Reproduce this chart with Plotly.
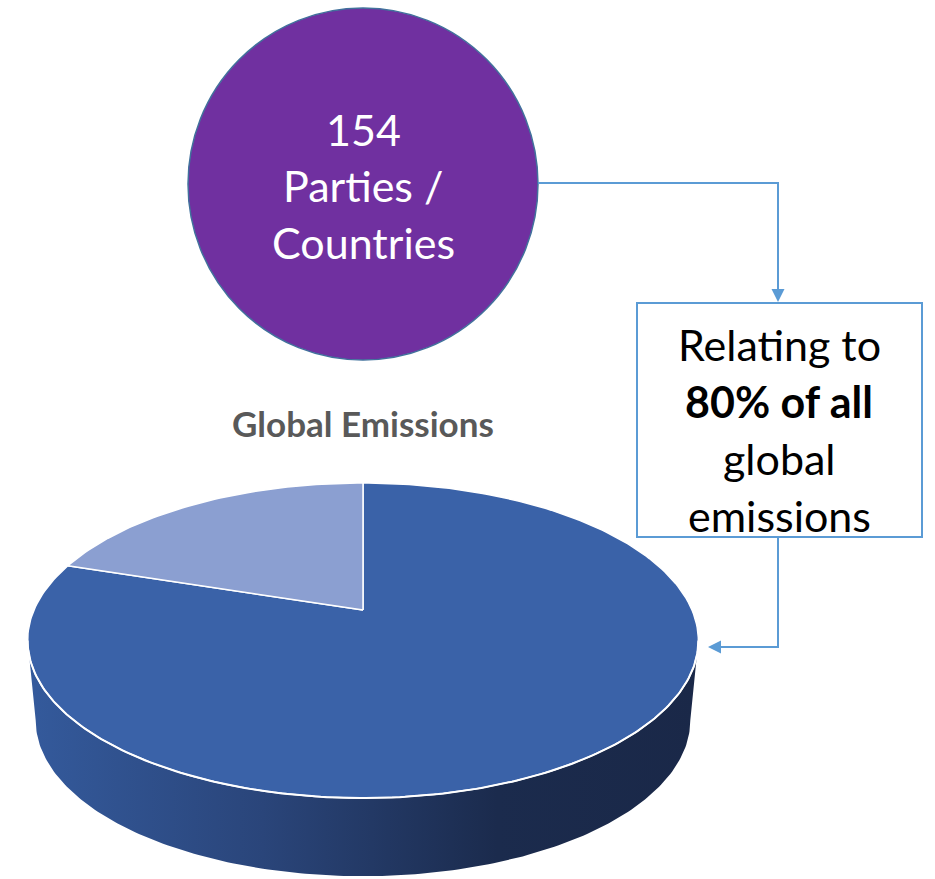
import numpy as np
import plotly.graph_objects as go

# ---- data ----
slice_labels = ["Covered by 154 Parties", "Rest of world"]
slice_values = [80, 20]
slice_colors = ["#3A62A8", "#8B9FD1"]
chart_title = "Global Emissions"
circle_lines = ["154", "Parties /", "Countries"]
box_lines = ["Relating to", "<b>80% of all</b>", "global", "emissions"]

W, H_PX = 935, 879
FONT = "Lato"
LINE_COL = "#5B9BD5"

# pie geometry (pixel space, y down)
cx, cy = 363, 610
R, Hh, p = 329, 151.6, 0.194
DEPTH = 80


def proj(phi, drop=0.0, shrink_x=1.0, shrink_y=1.0):
    u = np.sin(phi)
    v = np.cos(phi)
    s = 1.0 / (1.0 + p * v)
    return cx + R * u * s * shrink_x, cy - Hh * v * s * shrink_y + drop


fig = go.Figure()

# side of the pie (front arc extruded)
phi_r = np.arccos(-p)
phi_l = 2 * np.pi - phi_r
arc = np.linspace(phi_r, phi_l, 200)
tx, ty = proj(arc)
bx, by = proj(arc[::-1], drop=DEPTH, shrink_x=0.976, shrink_y=0.99)
fig.add_trace(go.Scatter(
    x=np.concatenate([tx, bx, tx[:1]]), y=np.concatenate([ty, by, ty[:1]]),
    mode="lines", fill="toself", line=dict(width=0, color="rgba(0,0,0,0)"),
    fillgradient=dict(type="horizontal",
                      colorscale=[[0, "#345A9C"], [0.35, "#2A457A"], [0.7, "#1B2B4D"], [1, "#1A2848"]]),
    hoverinfo="skip", showlegend=False))

# top face slices, clockwise from 12 o'clock
total = sum(slice_values)
start = 0.0
for lab, val, col in zip(slice_labels, slice_values, slice_colors):
    a0 = start
    a1 = start + 2 * np.pi * val / total
    ang = np.linspace(a0, a1, max(int(300 * val / total), 10))
    ax_, ay_ = proj(ang)
    xs = np.concatenate([[cx], ax_, [cx]])
    ys = np.concatenate([[cy], ay_, [cy]])
    fig.add_trace(go.Scatter(x=xs, y=ys, mode="lines", fill="toself", fillcolor=col,
                             line=dict(color="white", width=1.5), name=lab,
                             hoverinfo="name", showlegend=False))
    start = a1

# white rim between top face and side
fig.add_trace(go.Scatter(x=tx, y=ty, mode="lines", line=dict(color="white", width=2),
                         hoverinfo="skip", showlegend=False))

shapes = [
    dict(type="circle", x0=188, x1=538, y0=8, y1=360, fillcolor="#7030A0",
         line=dict(color="#41719C", width=1.5), layer="below"),
    dict(type="rect", x0=637, x1=922, y0=303, y1=537, fillcolor="white",
         line=dict(color=LINE_COL, width=2), layer="below"),
    dict(type="path", path="M 538 183 L 778 183 L 778 292", line=dict(color=LINE_COL, width=2)),
    dict(type="path", path="M 778 537 L 778 647 L 716 647", line=dict(color=LINE_COL, width=2)),
]

annotations = []
# arrowheads
annotations.append(dict(x=778, y=302, ax=778, ay=280, xref="x", yref="y", axref="x", ayref="y",
                        text="", showarrow=True, arrowhead=2, arrowsize=1.3, arrowwidth=2,
                        arrowcolor=LINE_COL))
annotations.append(dict(x=708, y=647, ax=730, ay=647, xref="x", yref="y", axref="x", ayref="y",
                        text="", showarrow=True, arrowhead=2, arrowsize=1.3, arrowwidth=2,
                        arrowcolor=LINE_COL))

for i, t in enumerate(circle_lines):
    annotations.append(dict(x=363, y=129 + 56.5 * i, xref="x", yref="y", text=t, showarrow=False,
                            font=dict(family=FONT, size=43, color="white"),
                            xanchor="center", yanchor="middle"))
for i, t in enumerate(box_lines):
    annotations.append(dict(x=779, y=344 + 57 * i, xref="x", yref="y", text=t, showarrow=False,
                            font=dict(family=FONT, size=43, color="black"),
                            xanchor="center", yanchor="middle"))
annotations.append(dict(x=363, y=423, xref="x", yref="y", text="<b>" + chart_title + "</b>",
                        showarrow=False, font=dict(family=FONT, size=35, color="#595959"),
                        xanchor="center", yanchor="middle"))

fig.update_layout(
    width=W, height=H_PX, autosize=False,
    margin=dict(l=0, r=0, t=0, b=0),
    paper_bgcolor="white", plot_bgcolor="white",
    xaxis=dict(range=[0, W], visible=False, fixedrange=True),
    yaxis=dict(range=[H_PX, 0], visible=False, fixedrange=True),
    shapes=shapes, annotations=annotations, showlegend=False,
)

fig.write_html("out.html")
